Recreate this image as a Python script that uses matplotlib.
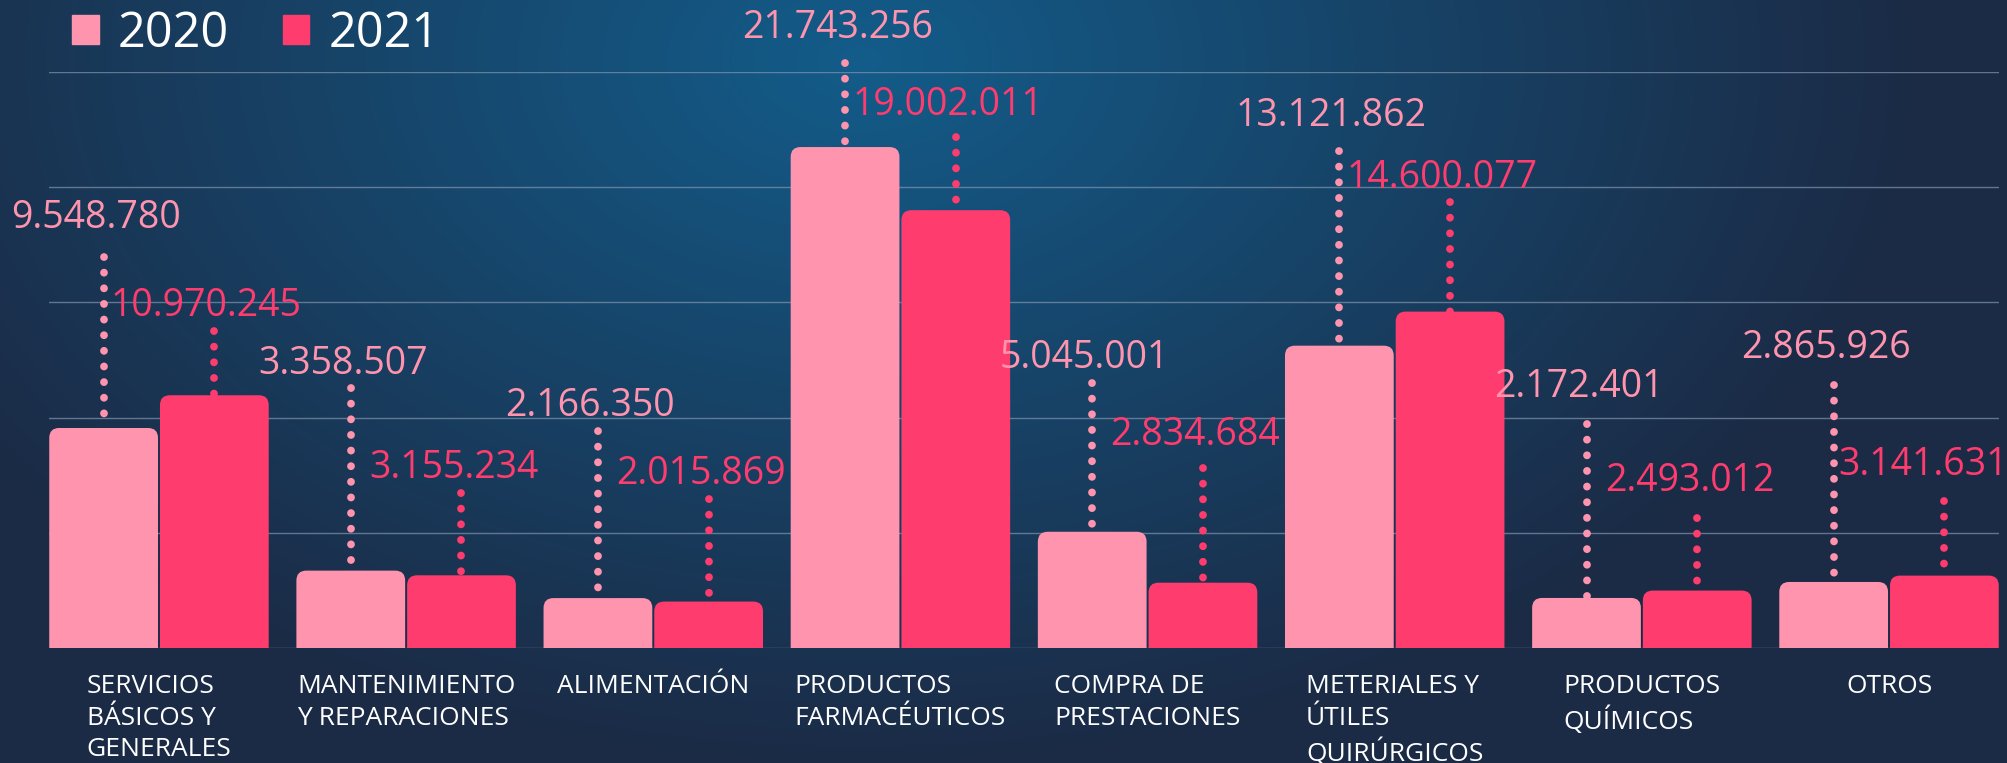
import matplotlib
matplotlib.use("Agg")
import matplotlib.pyplot as plt
import numpy as np
from matplotlib.patches import FancyBboxPatch, Patch

plt.rcParams['font.family'] = ['Open Sans', 'DejaVu Sans']

categories = ["SERVICIOS\nBÁSICOS Y\nGENERALES", "MANTENIMIENTO\nY REPARACIONES",
              "ALIMENTACIÓN", "PRODUCTOS\nFARMACÉUTICOS", "COMPRA DE\nPRESTACIONES",
              "METERIALES Y\nÚTILES\nQUIRÚRGICOS", "PRODUCTOS\nQUÍMICOS", "OTROS"]
v2020 = [9548780, 3358507, 2166350, 21743256, 5045001, 13121862, 2172401, 2865926]
v2021 = [10970245, 3155234, 2015869, 19002011, 2834684, 14600077, 2493012, 3141631]
years = ["2020", "2021"]

# where the dotted leaders end and where the value labels sit (millions)
lead_2020 = [16.96, 11.27, 9.41, 25.41, 11.49, 21.55, 9.71, 11.40]
lead_2021 = [13.75, 6.72, 6.46, 22.20, 7.81, 19.34, 5.64, 6.37]
text_2020 = [18.65, 12.32, 10.49, 26.89, 12.58, 23.11, 11.32, 13.01]
text_2021 = [14.83, 7.81, 7.55, 23.55, 9.24, 20.42, 7.24, 7.94]

c2020 = "#ff94ae"
c2021 = "#ff3c6e"

fig = plt.figure(figsize=(20.07, 7.63), dpi=100)

# background gradient
bg = fig.add_axes([0, 0, 1, 1], zorder=-10)
H, W = 763, 2007
yy, xx = np.mgrid[0:H, 0:W]
d = np.sqrt(((xx - 860) / 1050.0) ** 2 + ((yy - 60) / 700.0) ** 2)
t = np.clip(d, 0, 1)[..., None]
inner = np.array([19, 92, 138]) / 255.0
outer = np.array([27, 43, 70]) / 255.0
bg.imshow(inner * (1 - t) + outer * t, aspect='auto', extent=[0, 1, 0, 1])
bg.axis('off')

ax = fig.add_axes([49 / 2007, 115 / 763, 1950 / 2007, 576 / 763])
ax.patch.set_alpha(0)
ax.set_xlim(-0.445, len(categories) - 1 + 0.445)
ax.set_ylim(0, 25)

for g in range(0, 30, 5):
    ax.axhline(g, color="#8095ad", lw=1, alpha=0.7, zorder=0)

x = np.arange(len(categories))
w = 0.44
off = 0.224
for vals, col, leads, tys, dx in [(v2020, c2020, lead_2020, text_2020, -off),
                                  (v2021, c2021, lead_2021, text_2021, off)]:
    for i, v in enumerate(vals):
        h = v / 1e6
        xc = x[i] + dx
        bar = FancyBboxPatch((xc - w / 2, -1), w, h + 1,
                             boxstyle="round,pad=0,rounding_size=0.04",
                             mutation_aspect=10.7, fc=col, ec="none", zorder=3)
        ax.add_patch(bar)
        ax.plot([xc, xc], [leads[i], h], color=col, lw=5.6,
                linestyle=(0, (0.01, 2)), dash_capstyle='round', zorder=2,
                clip_on=False)
        tx = xc - 0.032
        if i == len(vals) - 1 and dx > 0:
            tx -= 0.055
        ax.text(tx, tys[i], f"{v:,}".replace(",", "."), color=col,
                fontsize=27, ha='center', va='center', zorder=4)

ax.set_xticks(x)
ax.set_xticklabels(categories, color="white", fontsize=19, multialignment='left',
                   linespacing=1.33)
ax.tick_params(axis='x', length=0, pad=19)
ax.set_yticks([])
for s in ax.spines.values():
    s.set_visible(False)

handles = [Patch(color=c2020), Patch(color=c2021)]
fig.legend(handles, years, loc='upper left', bbox_to_anchor=(0.014, 1.045), ncol=2,
           frameon=False, fontsize=35, labelcolor='white', handlelength=0.55,
           handleheight=0.55, handletextpad=0.4, columnspacing=1.1)

fig.savefig("out.png", dpi=100)
